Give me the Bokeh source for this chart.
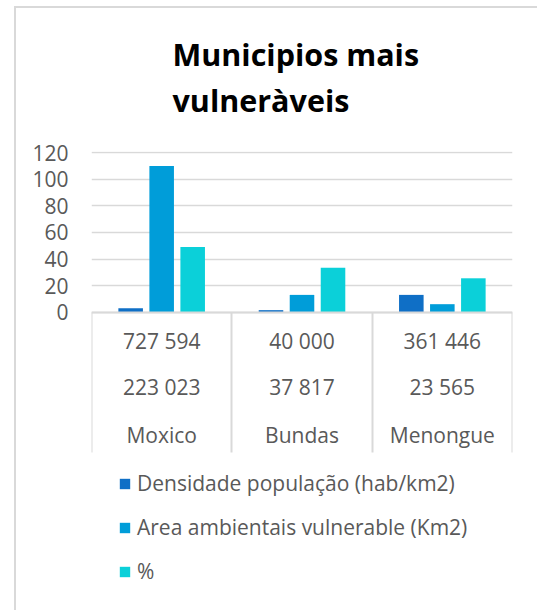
from bokeh.plotting import figure
from bokeh.models import (FactorRange, Range1d, FixedTicker, CategoricalAxis,
                          Legend, LegendItem)
from bokeh.transform import dodge
from bokeh.embed import file_html
from bokeh.resources import INLINE

# ---- data ----
municipios = ["Moxico", "Bundas", "Menongue"]
populacao = ["727 594", "40 000", "361 446"]
area_total = ["223 023", "37 817", "23 565"]
densidade = [3, 1.5, 13]
area_vulneravel = [110, 13, 6]
percentagem = [49, 33.5, 25.5]
series_names = ["Densidade população (hab/km2)", "Area ambientais vulnerable (Km2)", "%"]
series_colors = ["#0F6FC6", "#009DD9", "#0BD0D9"]
y_ticks = [0, 20, 40, 60, 80, 100, 120]
title_text = "Municipios mais\nvulneràveis"

FONT = "Open Sans"
FS = "21px"
GRAY = "#595959"
GRID = "#D9D9D9"

# layout (pixels): value axis spans 161 px for 0..121, the frame continues down to the page bottom
TOP, PLOT_H, FRAME_H = 150, 161, 460
Y_MAX = 121
y_min = Y_MAX - FRAME_H * Y_MAX / PLOT_H

p = figure(width=537, height=610, x_range=FactorRange(factors=municipios), y_range=Range1d(y_min, Y_MAX),
           output_backend="svg", toolbar_location=None, x_axis_location=None,
           min_border_left=91, min_border_right=25, min_border_top=TOP, min_border_bottom=0)
p.outline_line_color = None
p.background_fill_color = None
p.border_fill_color = None
p.styles = {"background": "linear-gradient(#D9D9D9,#D9D9D9) 14px 6px / 2px 604px no-repeat, "
                          "linear-gradient(#D9D9D9,#D9D9D9) 14px 6px / 523px 2px no-repeat, #ffffff"}

# table cell borders: one factor per boundary, range trimmed so the factor centres sit on the boundaries
edge_factors = ["|%d" % i for i in range(len(municipios) + 1)]
p.extra_x_ranges = {"pop": FactorRange(factors=populacao),
                    "area": FactorRange(factors=area_total),
                    "edges": FactorRange(factors=edge_factors,
                                         range_padding=-0.9996 / len(edge_factors),
                                         range_padding_units="percent")}

data = dict(cat=municipios, d=densidade, a=area_vulneravel, pc=percentagem)
cols = ["d", "a", "pc"]
offsets = [-0.221, 0.0, 0.221]
renderers = []
for col, off, color in zip(cols, offsets, series_colors):
    r = p.vbar(x=dodge("cat", off, range=p.x_range), top=col, width=0.175, source=data,
               fill_color=color, line_color=None)
    renderers.append(r)

# y axis / grid
yt = FixedTicker(ticks=y_ticks)
p.yaxis.ticker = yt
p.ygrid.ticker = yt
p.ygrid.grid_line_color = GRID
p.ygrid.grid_line_width = 1.5
p.xgrid.grid_line_color = None
p.yaxis.axis_line_color = None
p.yaxis.major_tick_line_color = None
p.yaxis.minor_tick_line_color = None
p.yaxis.major_tick_out = 0
p.yaxis.major_label_standoff = 23
p.yaxis.major_label_text_font = FONT
p.yaxis.major_label_text_font_size = FS
p.yaxis.major_label_text_color = GRAY


def cat_axis(range_name, standoff, first=False):
    kw = {"x_range_name": range_name} if range_name else {}
    ax = CategoricalAxis(fixed_location=0, **kw)
    ax.axis_line_color = GRID if first else None
    ax.axis_line_width = 2
    ax.major_tick_line_color = None
    ax.major_tick_out = 0
    ax.major_tick_in = 0
    ax.major_label_standoff = standoff
    ax.major_label_text_font = FONT
    ax.major_label_text_font_size = FS
    ax.major_label_text_color = GRAY
    ax.separator_line_color = None
    return ax


p.add_layout(cat_axis("pop", 15, first=True), "below")
p.add_layout(cat_axis("area", 61), "below")
p.add_layout(cat_axis(None, 109), "below")

edge = CategoricalAxis(x_range_name="edges", fixed_location=0)
edge.axis_line_color = None
edge.major_tick_in = 0
edge.major_tick_out = 140
edge.major_tick_line_color = GRID
edge.major_tick_line_width = 2
edge.major_label_text_font_size = "1px"
edge.major_label_text_alpha = 0
edge.major_label_standoff = 0
edge.separator_line_color = None
p.add_layout(edge, "below")

legend = Legend(items=[LegendItem(label=n, renderers=[r]) for n, r in zip(series_names, renderers)],
                location=(27, 23), orientation="vertical",
                glyph_width=13, glyph_height=13, label_text_font=FONT, label_text_font_size=FS,
                label_text_color=GRAY, label_standoff=6, spacing=12, margin=0, padding=10,
                label_height=32, border_line_color=None, background_fill_alpha=0)
p.add_layout(legend, "center")

# title
p.title.text = title_text
p.title.text_font = FONT
p.title.text_font_size = "30.5px"
p.title.text_font_style = "bold"
p.title.text_color = "black"
p.title.align = "left"
p.title.offset = 81
p.title.text_line_height = 1.1
p.title.standoff = 61

open("out.html", "w").write(file_html(p, INLINE))
